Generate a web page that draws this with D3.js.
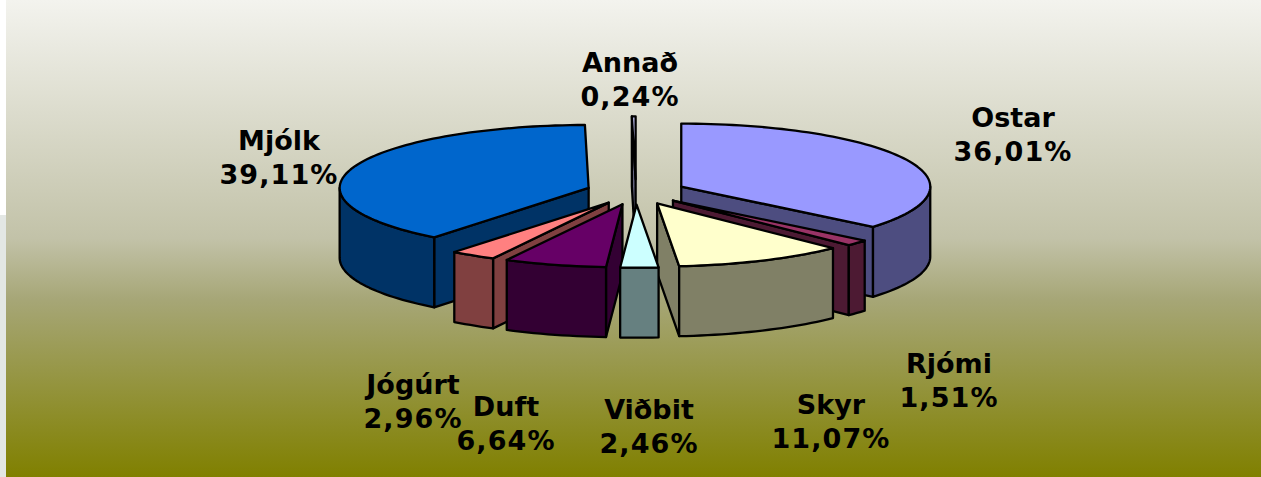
<!DOCTYPE html>
<html>
<head>
<meta charset="utf-8">
<script src="https://d3js.org/d3.v7.min.js"></script>
<style>
html, body { margin: 0; padding: 0; background: #fff; overflow: hidden; }
svg { display: block; }
text { font-family: "DejaVu Sans", sans-serif; font-weight: bold; font-size: 27px; fill: #000; }
tspan.share { letter-spacing: 1.1px; }
</style>
</head>
<body>
<script>
// values
var categories = ["Ostar", "Rjómi", "Skyr", "Viðbit", "Duft", "Jógúrt", "Mjólk", "Annað"];
var shares = [36.01, 1.51, 11.07, 2.46, 6.64, 2.96, 39.11, 0.24];
var shareLabels = ["36,01%", "1,51%", "11,07%", "2,46%", "6,64%", "2,96%", "39,11%", "0,24%"];

var topColors = ["#9999ff", "#993366", "#ffffcc", "#ccffff", "#660066", "#ff8080", "#0066cc", "#ccccff"];
var sideColors = ["#4d4d80", "#4d1a33", "#808066", "#668080", "#330033", "#804040", "#003366", "#666680"];

// label centre x and first baseline y
var labelX = [1013, 949, 831, 649, 506, 413, 279, 630];
var labelY = [127, 373, 414, 419, 416, 394, 150, 72];

var w = 1261, h = 477;
var cx = 636, cy = 192;
var rx = 249, ry = 63;
var depth = 70;
var explode = 50;
var tilt = ry / rx;

var svg = d3.select("body").append("svg").attr("width", w).attr("height", h);

// background
var defs = svg.append("defs");
var grad = defs.append("linearGradient").attr("id", "bg").attr("x1", 0).attr("y1", 0).attr("x2", 0).attr("y2", 1);
grad.append("stop").attr("offset", 0).attr("stop-color", "#f3f3ee");
grad.append("stop").attr("offset", 0.5).attr("stop-color", "#c2c2a8");
grad.append("stop").attr("offset", 0.63).attr("stop-color", "#a6a676");
grad.append("stop").attr("offset", 1).attr("stop-color", "#808000");

svg.append("rect").attr("width", w).attr("height", h).attr("fill", "#fff");
svg.append("rect").attr("y", 215).attr("width", 6).attr("height", h - 215).attr("fill", "#e3e7e4");
svg.append("rect").attr("x", 6).attr("width", w - 6).attr("height", h).attr("fill", "url(#bg)");

var pie = d3.pie().sort(null).value(function(d) { return d; }).startAngle(0).endAngle(2 * Math.PI);
var slices = pie(shares).map(function(d, i) {
	var mid = (d.startAngle + d.endAngle) / 2;
	return {
		i: i,
		a0: d.startAngle,
		a1: d.endAngle,
		mid: mid,
		ox: cx + explode * Math.sin(mid),
		oy: cy - explode * tilt * Math.cos(mid)
	};
});

var line = d3.line().curve(d3.curveLinear);

function rim(s, a0, a1, dz) {
	var n = Math.max(2, Math.ceil((a1 - a0) / 0.03));
	return d3.range(n + 1).map(function(k) {
		var a = a0 + (a1 - a0) * k / n;
		return [s.ox + rx * Math.sin(a), s.oy - ry * Math.cos(a) + dz];
	});
}

function face(g, pts, color) {
	g.append("path")
		.attr("d", line(pts) + "Z")
		.attr("fill", color)
		.attr("stroke", "#000")
		.attr("stroke-width", 2.3)
		.attr("stroke-linejoin", "round");
}

// back slices first, front slices last
var ordered = slices.slice().sort(function(a, b) {
	return d3.descending(Math.abs(a.mid - Math.PI), Math.abs(b.mid - Math.PI));
});

ordered.forEach(function(s) {
	var g = svg.append("g").attr("class", "slice");
	var side = sideColors[s.i];

	// cut faces
	[s.a0, s.a1].forEach(function(a, k) {
		var visible = k === 0 ? Math.sin(a) < 0 : Math.sin(a) > 0;
		if (!visible) return;
		var p = [s.ox + rx * Math.sin(a), s.oy - ry * Math.cos(a)];
		face(g, [[s.ox, s.oy], p, [p[0], p[1] + depth], [s.ox, s.oy + depth]], side);
	});

	// outer wall, only the part that looks at the viewer
	var f0 = Math.max(s.a0, Math.PI / 2), f1 = Math.min(s.a1, 3 * Math.PI / 2);
	if (f1 > f0) {
		face(g, rim(s, f0, f1, 0).concat(rim(s, f0, f1, depth).reverse()), side);
	}

	// top
	face(g, [[s.ox, s.oy]].concat(rim(s, s.a0, s.a1, 0)), topColors[s.i]);
});

// labels
categories.forEach(function(c, i) {
	var t = svg.append("text").attr("text-anchor", "middle");
	t.append("tspan").attr("x", labelX[i]).attr("y", labelY[i]).text(c);
	t.append("tspan").attr("class", "share").attr("x", labelX[i]).attr("y", labelY[i] + 33.5).text(shareLabels[i]);
});
</script>
</body>
</html>
